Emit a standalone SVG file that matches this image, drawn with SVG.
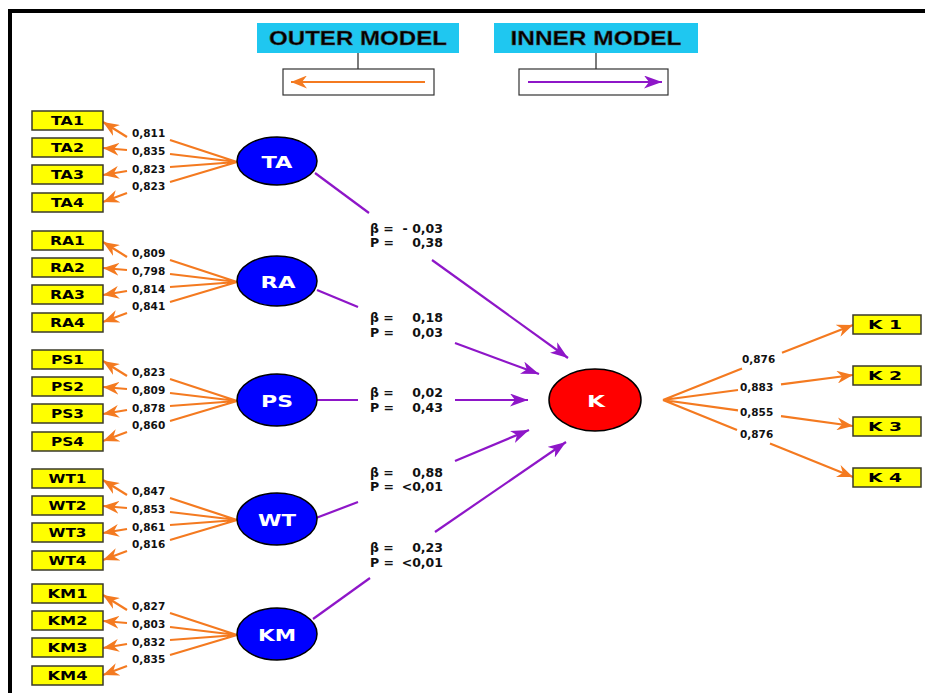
<svg xmlns="http://www.w3.org/2000/svg" width="925" height="693" viewBox="0 0 925 693">
<style>
.ind rect{fill:#ffff00;stroke:#3a3a2a;stroke-width:1.5}
.ind text{font-family:"DejaVu Sans",sans-serif;font-weight:bold;font-size:12px;fill:#000;text-anchor:middle}
.lv ellipse{fill:#0000ff;stroke:#000;stroke-width:1.5}
.lv text{font-family:"DejaVu Sans",sans-serif;font-weight:bold;font-size:16.5px;fill:#fff;text-anchor:middle}
.o{stroke:#f47a20;stroke-width:2.2;fill:none}
.o.a{marker-end:url(#ao)}
.p{stroke:#8e16c8;stroke-width:2.2;fill:none}
.p.a{marker-end:url(#ap)}
.ld{font-family:"DejaVu Sans",sans-serif;font-weight:bold;font-size:10.5px;fill:#111}
.st{font-family:"DejaVu Sans",sans-serif;font-weight:bold;font-size:12.5px;fill:#111}
.hd rect.t{fill:#1fc7f0}
.hd text{font-family:"Liberation Sans",Arial,sans-serif;font-weight:bold;font-size:20px;fill:#000;text-anchor:middle;stroke:#555;stroke-width:0.4}
.hd rect.b{fill:#fff;stroke:#333;stroke-width:1.2}
.hd line.s{stroke:#222;stroke-width:1.2}
</style>
<defs>
<marker id="ao" viewBox="0 0 16 13" refX="16" refY="6.5" markerWidth="16" markerHeight="13" markerUnits="userSpaceOnUse" orient="auto"><path d="M0,0 L16,6.5 L0,13 L5,6.5 z" fill="#f47a20"/></marker>
<marker id="ap" viewBox="0 0 18 13" refX="18" refY="6.5" markerWidth="18" markerHeight="13" markerUnits="userSpaceOnUse" orient="auto"><path d="M0,0 L18,6.5 L0,13 L5,6.5 z" fill="#8e16c8"/></marker>
</defs>
<rect width="925" height="693" fill="#fff"/>
<path d="M10,693 V11 H925" fill="none" stroke="#000" stroke-width="4"/>

<g id="legend" class="hd">
<g id="outer-model">
<rect class="t" x="257" y="23" width="202" height="30"/>
<text x="358" y="45" textLength="178" lengthAdjust="spacingAndGlyphs">OUTER MODEL</text>
<line class="s" x1="358" y1="53" x2="358" y2="69"/>
<rect class="b" x="283" y="69" width="151" height="26"/>
<line class="o a" x1="425" y1="82" x2="291" y2="82"/>
</g>
<g id="inner-model">
<rect class="t" x="494" y="23" width="204" height="30"/>
<text x="596" y="45" textLength="171" lengthAdjust="spacingAndGlyphs">INNER MODEL</text>
<line class="s" x1="596" y1="53" x2="596" y2="69"/>
<rect class="b" x="519" y="69" width="149" height="26"/>
<line class="p a" x1="528" y1="82" x2="662" y2="82"/>
</g>
</g>

<g id="connectors">
<path class="o" d="M237,162 L170,140 M237,162 L170,154 M237,162 L170,167 M237,162 L170,182"/>
<line class="o a" x1="127" y1="137" x2="103" y2="122"/>
<line class="o a" x1="127" y1="150" x2="103" y2="148"/>
<line class="o a" x1="127" y1="171" x2="103" y2="175"/>
<line class="o a" x1="127" y1="193" x2="103" y2="202"/>
<path class="o" d="M237,282 L170,260 M237,282 L170,274 M237,282 L170,287 M237,282 L170,302"/>
<line class="o a" x1="127" y1="257" x2="103" y2="242"/>
<line class="o a" x1="127" y1="270" x2="103" y2="268"/>
<line class="o a" x1="127" y1="291" x2="103" y2="295"/>
<line class="o a" x1="127" y1="313" x2="103" y2="322"/>
<path class="o" d="M237,401 L170,379 M237,401 L170,393 M237,401 L170,406 M237,401 L170,421"/>
<line class="o a" x1="127" y1="376" x2="103" y2="361"/>
<line class="o a" x1="127" y1="389" x2="103" y2="387"/>
<line class="o a" x1="127" y1="410" x2="103" y2="414"/>
<line class="o a" x1="127" y1="432" x2="103" y2="441"/>
<path class="o" d="M237,520 L170,498 M237,520 L170,512 M237,520 L170,525 M237,520 L170,540"/>
<line class="o a" x1="127" y1="495" x2="103" y2="480"/>
<line class="o a" x1="127" y1="508" x2="103" y2="506"/>
<line class="o a" x1="127" y1="529" x2="103" y2="533"/>
<line class="o a" x1="127" y1="551" x2="103" y2="560"/>
<path class="o" d="M237,635 L170,613 M237,635 L170,627 M237,635 L170,640 M237,635 L170,655"/>
<line class="o a" x1="127" y1="610" x2="103" y2="595"/>
<line class="o a" x1="127" y1="623" x2="103" y2="621"/>
<line class="o a" x1="127" y1="644" x2="103" y2="648"/>
<line class="o a" x1="127" y1="666" x2="103" y2="675"/>
<path class="o" d="M663,400 L742,368.6 M663,400 L738,390 M663,400 L738,410.3 M663,400 L737,430.1"/>
<line class="o a" x1="782" y1="352.7" x2="853" y2="325"/>
<line class="o a" x1="781" y1="384.4" x2="853" y2="375"/>
<line class="o a" x1="781" y1="416.2" x2="853" y2="426"/>
<line class="o a" x1="770" y1="443.6" x2="853" y2="477"/>
<line class="p" x1="315" y1="173" x2="369" y2="213"/>
<line class="p a" x1="432" y1="260" x2="568" y2="358"/>
<line class="p" x1="317" y1="290" x2="358" y2="307"/>
<line class="p a" x1="455" y1="343" x2="539" y2="374"/>
<line class="p" x1="317" y1="400" x2="358" y2="400"/>
<line class="p a" x1="455" y1="400" x2="528" y2="400"/>
<line class="p" x1="316" y1="518" x2="358" y2="502"/>
<line class="p a" x1="455" y1="461" x2="529" y2="430"/>
<line class="p" x1="313" y1="619" x2="370" y2="578"/>
<line class="p a" x1="435" y1="532" x2="566" y2="442"/>
</g>

<g id="loadings" class="ld">
<text x="132" y="137">0,811</text><text x="132" y="155">0,835</text><text x="132" y="173">0,823</text><text x="132" y="190">0,823</text>
<text x="132" y="257">0,809</text><text x="132" y="275">0,798</text><text x="132" y="293">0,814</text><text x="132" y="310">0,841</text>
<text x="132" y="376">0,823</text><text x="132" y="394">0,809</text><text x="132" y="412">0,878</text><text x="132" y="429">0,860</text>
<text x="132" y="495">0,847</text><text x="132" y="513">0,853</text><text x="132" y="531">0,861</text><text x="132" y="548">0,816</text>
<text x="132" y="610">0,827</text><text x="132" y="628">0,803</text><text x="132" y="646">0,832</text><text x="132" y="663">0,835</text>
<text x="742" y="363">0,876</text><text x="740" y="391">0,883</text><text x="740" y="416">0,855</text><text x="740" y="438">0,876</text>
</g>

<g id="paths" class="st">
<text x="370" y="233">β =</text><text x="443" y="233" text-anchor="end">- 0,03</text>
<text x="370" y="247">P =</text><text x="443" y="247" text-anchor="end">0,38</text>
<text x="370" y="322">β =</text><text x="443" y="322" text-anchor="end">0,18</text>
<text x="370" y="337">P =</text><text x="443" y="337" text-anchor="end">0,03</text>
<text x="370" y="397">β =</text><text x="443" y="397" text-anchor="end">0,02</text>
<text x="370" y="412">P =</text><text x="443" y="412" text-anchor="end">0,43</text>
<text x="370" y="477">β =</text><text x="443" y="477" text-anchor="end">0,88</text>
<text x="370" y="491">P =</text><text x="443" y="491" text-anchor="end">&lt;0,01</text>
<text x="370" y="552">β =</text><text x="443" y="552" text-anchor="end">0,23</text>
<text x="370" y="567">P =</text><text x="443" y="567" text-anchor="end">&lt;0,01</text>
</g>

<g id="TA" class="lv"><ellipse cx="277" cy="161" rx="40" ry="24"/><text x="277" y="168" textLength="31" lengthAdjust="spacingAndGlyphs">TA</text></g>
<g id="RA" class="lv"><ellipse cx="277" cy="281" rx="40" ry="25"/><text x="278" y="288" textLength="35" lengthAdjust="spacingAndGlyphs">RA</text></g>
<g id="PS" class="lv"><ellipse cx="277" cy="400" rx="40" ry="26"/><text x="277" y="407" textLength="32" lengthAdjust="spacingAndGlyphs">PS</text></g>
<g id="WT" class="lv"><ellipse cx="277" cy="519" rx="40" ry="26"/><text x="277" y="526" textLength="38" lengthAdjust="spacingAndGlyphs">WT</text></g>
<g id="KM" class="lv"><ellipse cx="277" cy="634" rx="40" ry="26"/><text x="277" y="641" textLength="38" lengthAdjust="spacingAndGlyphs">KM</text></g>
<g id="K" class="lv"><ellipse cx="595" cy="400" rx="46" ry="31" style="fill:#ff0000"/><text x="596" y="407" textLength="18" lengthAdjust="spacingAndGlyphs">K</text></g>

<g id="TA1" class="ind"><rect x="32" y="111" width="71" height="19"/><text x="67.5" y="125" textLength="33" lengthAdjust="spacingAndGlyphs">TA1</text></g>
<g id="TA2" class="ind"><rect x="32" y="138" width="71" height="19"/><text x="67.5" y="152" textLength="33" lengthAdjust="spacingAndGlyphs">TA2</text></g>
<g id="TA3" class="ind"><rect x="32" y="165" width="71" height="19"/><text x="67.5" y="179" textLength="33" lengthAdjust="spacingAndGlyphs">TA3</text></g>
<g id="TA4" class="ind"><rect x="32" y="193" width="71" height="19"/><text x="67.5" y="207" textLength="33" lengthAdjust="spacingAndGlyphs">TA4</text></g>
<g id="RA1" class="ind"><rect x="32" y="231" width="71" height="19"/><text x="67.5" y="245" textLength="35" lengthAdjust="spacingAndGlyphs">RA1</text></g>
<g id="RA2" class="ind"><rect x="32" y="258" width="71" height="19"/><text x="67.5" y="272" textLength="35" lengthAdjust="spacingAndGlyphs">RA2</text></g>
<g id="RA3" class="ind"><rect x="32" y="285" width="71" height="19"/><text x="67.5" y="299" textLength="35" lengthAdjust="spacingAndGlyphs">RA3</text></g>
<g id="RA4" class="ind"><rect x="32" y="313" width="71" height="19"/><text x="67.5" y="327" textLength="35" lengthAdjust="spacingAndGlyphs">RA4</text></g>
<g id="PS1" class="ind"><rect x="32" y="350" width="71" height="19"/><text x="67.5" y="364" textLength="33" lengthAdjust="spacingAndGlyphs">PS1</text></g>
<g id="PS2" class="ind"><rect x="32" y="377" width="71" height="19"/><text x="67.5" y="391" textLength="33" lengthAdjust="spacingAndGlyphs">PS2</text></g>
<g id="PS3" class="ind"><rect x="32" y="404" width="71" height="19"/><text x="67.5" y="418" textLength="33" lengthAdjust="spacingAndGlyphs">PS3</text></g>
<g id="PS4" class="ind"><rect x="32" y="432" width="71" height="19"/><text x="67.5" y="446" textLength="33" lengthAdjust="spacingAndGlyphs">PS4</text></g>
<g id="WT1" class="ind"><rect x="32" y="469" width="71" height="19"/><text x="67.5" y="483" textLength="38" lengthAdjust="spacingAndGlyphs">WT1</text></g>
<g id="WT2" class="ind"><rect x="32" y="496" width="71" height="19"/><text x="67.5" y="510" textLength="38" lengthAdjust="spacingAndGlyphs">WT2</text></g>
<g id="WT3" class="ind"><rect x="32" y="523" width="71" height="19"/><text x="67.5" y="537" textLength="38" lengthAdjust="spacingAndGlyphs">WT3</text></g>
<g id="WT4" class="ind"><rect x="32" y="551" width="71" height="19"/><text x="67.5" y="565" textLength="38" lengthAdjust="spacingAndGlyphs">WT4</text></g>
<g id="KM1" class="ind"><rect x="32" y="584" width="71" height="19"/><text x="67.5" y="598" textLength="40" lengthAdjust="spacingAndGlyphs">KM1</text></g>
<g id="KM2" class="ind"><rect x="32" y="611" width="71" height="19"/><text x="67.5" y="625" textLength="40" lengthAdjust="spacingAndGlyphs">KM2</text></g>
<g id="KM3" class="ind"><rect x="32" y="638" width="71" height="19"/><text x="67.5" y="652" textLength="40" lengthAdjust="spacingAndGlyphs">KM3</text></g>
<g id="KM4" class="ind"><rect x="32" y="666" width="71" height="19"/><text x="67.5" y="680" textLength="40" lengthAdjust="spacingAndGlyphs">KM4</text></g>
<g id="K1" class="ind"><rect x="853" y="315" width="68" height="19"/><text x="885" y="329" textLength="34" lengthAdjust="spacingAndGlyphs">K 1</text></g>
<g id="K2" class="ind"><rect x="853" y="366" width="68" height="19"/><text x="885" y="380" textLength="34" lengthAdjust="spacingAndGlyphs">K 2</text></g>
<g id="K3" class="ind"><rect x="853" y="417" width="68" height="19"/><text x="885" y="431" textLength="34" lengthAdjust="spacingAndGlyphs">K 3</text></g>
<g id="K4" class="ind"><rect x="853" y="468" width="68" height="19"/><text x="885" y="482" textLength="34" lengthAdjust="spacingAndGlyphs">K 4</text></g>
</svg>
